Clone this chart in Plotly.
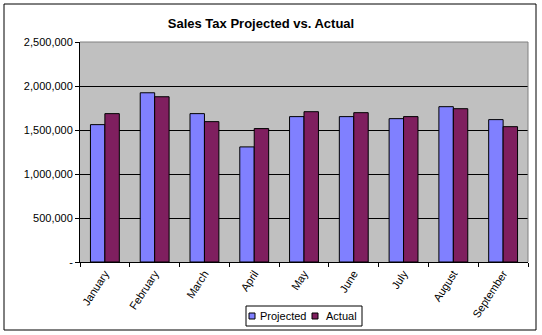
import plotly.graph_objects as go

months = ["January", "February", "March", "April", "May", "June", "July", "August", "September"]
projected = [1561000, 1923000, 1686000, 1308000, 1652000, 1652000, 1629000, 1765000, 1618000]
actual = [1686000, 1878000, 1595000, 1516000, 1708000, 1697000, 1652000, 1742000, 1538000]
ytickvals = [0, 500000, 1000000, 1500000, 2000000, 2500000]
yticktext = ["-", "500,000", "1,000,000", "1,500,000", "2,000,000", "2,500,000"]
series_names = ["Projected", "Actual"]
series_colors = ["#8080FF", "#7F1F5F"]

W, H = 542, 335
L, R, T, B = 80, 14, 42, 73
pw, ph = W - L - R, H - T - B

def px(x):
    return (x - L) / pw

def py(y):
    return (H - B - y) / ph

font = "Liberation Sans, Arial, sans-serif"

fig = go.Figure()
for name, vals, col in zip(series_names, [projected, actual], series_colors):
    fig.add_trace(go.Bar(x=months, y=vals, name=name, showlegend=False,
                         marker=dict(color=col, line=dict(color="black", width=1))))

fig.update_layout(
    width=W, height=H,
    margin=dict(l=L, r=R, t=T, b=B),
    paper_bgcolor="white",
    plot_bgcolor="#C0C0C0",
    barmode="group",
    bargap=0.42,
    bargroupgap=0,
    font=dict(family=font, size=11, color="black"),
    title=dict(text="<b>Sales Tax Projected vs. Actual</b>", x=px(261), xref="paper",
               xanchor="center", y=1 - 23 / H, yanchor="middle",
               font=dict(family=font, size=13, color="black")),
    xaxis=dict(type="category", tickangle=-57, ticks="outside", ticklen=4,
               tickson="boundaries", tickcolor="black", showline=True,
               linecolor="black", linewidth=1, showgrid=False, automargin=False,
               tickfont=dict(family=font, size=11)),
    yaxis=dict(range=[0, 2500000], tickvals=ytickvals, ticktext=yticktext,
               ticks="outside", ticklen=4, tickcolor="black", showline=True,
               linecolor="black", linewidth=1, showgrid=True, gridcolor="black",
               gridwidth=1, zeroline=False, automargin=False,
               tickfont=dict(family=font, size=11)),
    showlegend=False,
)

# plot area border (grey top/right)
fig.add_shape(type="line", xref="paper", yref="paper", x0=0, x1=1, y0=1, y1=1,
              line=dict(color="#808080", width=1))
fig.add_shape(type="line", xref="paper", yref="paper", x0=1, x1=1, y0=0, y1=1,
              line=dict(color="#808080", width=1))
# outer chart border
fig.add_shape(type="rect", xref="paper", yref="paper",
              x0=px(4), x1=px(536), y0=py(330), y1=py(4),
              line=dict(color="black", width=1), layer="below")

# legend (drawn manually for compact Excel-style layout)
fig.add_shape(type="rect", xref="paper", yref="paper",
              x0=px(246), x1=px(362), y0=py(326), y1=py(306),
              line=dict(color="black", width=1), fillcolor="white")
sq_x = [249, 312]
txt_x = [258, 324]
for name, col, sx, tx in zip(series_names, series_colors, sq_x, txt_x):
    fig.add_shape(type="rect", xref="paper", yref="paper",
                  x0=px(sx), x1=px(sx + 6), y0=py(319), y1=py(313),
                  line=dict(color="black", width=1), fillcolor=col)
    fig.add_annotation(text=name, xref="paper", yref="paper", x=px(tx), y=py(316),
                       xanchor="left", yanchor="middle", showarrow=False,
                       font=dict(family=font, size=11, color="black"))

fig.write_html("out.html")
